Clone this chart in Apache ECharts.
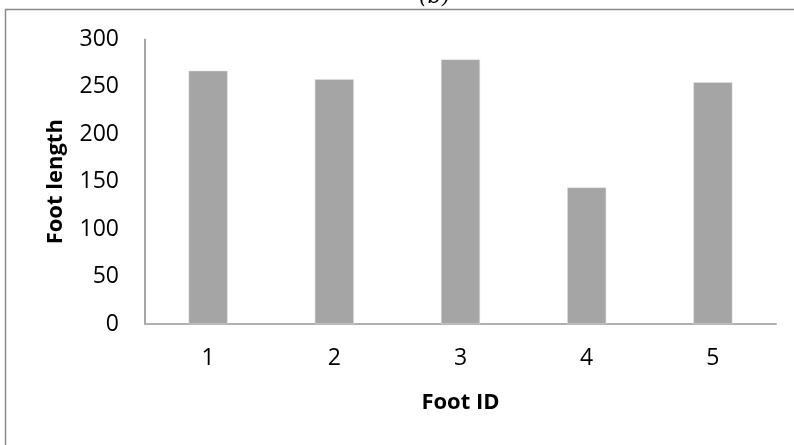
<!DOCTYPE html>
<html>
<head>
<meta charset="utf-8">
<script src="https://cdn.jsdelivr.net/npm/echarts@6/dist/echarts.min.js"></script>
<style>html,body{margin:0;padding:0;background:#fff}#c{width:794px;height:445px}</style>
</head>
<body>
<div id="c"></div>
<script>
var categories = ['1', '2', '3', '4', '5'];
var footLength = [267, 258, 279, 144, 255];
var yTicks = { min: 0, max: 300, interval: 50 };

var chart = echarts.init(document.getElementById('c'), null, { renderer: 'canvas' });
chart.setOption({
  animation: false,
  backgroundColor: '#ffffff',
  graphic: [
    { type: 'rect', shape: { x: 5.5, y: 9.5, width: 820, height: 460 },
      style: { fill: 'none', stroke: '#8a8a8a', lineWidth: 1.5 }, silent: true },
    { type: 'text', left: 419, top: -14,
      style: { text: '(b)', font: 'italic 22px "DejaVu Serif"', fill: '#000' } }
  ],
  grid: { left: 145, right: 18, top: 39.5, bottom: 121, containLabel: false },
  xAxis: {
    type: 'category', data: categories,
    name: 'Foot ID', nameLocation: 'middle', nameGap: 68,
    nameTextStyle: { fontFamily: 'Open Sans', fontWeight: 'bold', fontSize: 22, color: '#000' },
    axisLine: { lineStyle: { color: '#b0b0b0', width: 2 } },
    axisTick: { show: false },
    axisLabel: { fontFamily: 'Open Sans', fontSize: 23, color: '#000', margin: 23 }
  },
  yAxis: {
    type: 'value', min: yTicks.min, max: yTicks.max, interval: yTicks.interval,
    name: 'Foot length', nameLocation: 'middle', nameGap: 78, nameRotate: 90,
    nameTextStyle: { fontFamily: 'Open Sans', fontWeight: 'bold', fontSize: 22, color: '#000' },
    axisLine: { show: true, lineStyle: { color: '#a6a6a6', width: 2 } },
    axisTick: { show: false },
    splitLine: { show: false },
    axisLabel: { fontFamily: 'Open Sans', fontSize: 23, color: '#000', margin: 26 }
  },
  series: [{
    type: 'bar', data: footLength, barWidth: 39,
    itemStyle: { color: '#a5a5a5', borderColor: '#e0e0e0', borderWidth: 0.5 }
  }]
});
</script>
</body>
</html>
